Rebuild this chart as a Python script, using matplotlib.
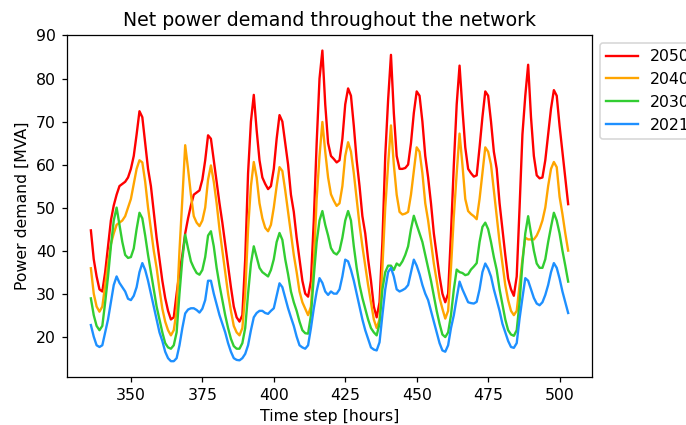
import numpy as np
import matplotlib
matplotlib.use("Agg")
import matplotlib.pyplot as plt

# hourly time steps for one week
hours = np.arange(336, 504)

# net demand per scenario year [MVA]
demand_2050 = [
    44.7, 38, 34, 31, 30.5, 35, 41, 47, 50.5, 53, 55, 55.5, 56, 57, 59, 62, 67, 72.4, 71, 65, 59, 55, 49, 43,
    38, 33, 29, 26, 24, 24.5, 30, 35, 39, 44, 47.5, 50.5, 53, 53.5, 54, 56.5, 61, 66.8, 66, 61, 56, 51, 46.5, 41.5,
    36.5, 31.5, 27, 24.5, 23.5, 25, 38, 58, 70, 76.2, 68, 61, 57, 55.5, 54.3, 55, 59, 66, 71.5, 70, 65, 60, 53, 49,
    43, 38, 33, 30, 29.3, 33, 47, 65, 80, 86.5, 74, 65, 62, 61.3, 60.5, 61, 66, 74, 77.7, 76, 69, 61, 55, 48,
    44, 38, 33, 27, 24.5, 28, 42, 62, 75, 85.5, 72, 62, 59, 59, 59.2, 60, 65, 72, 77, 76, 70, 62, 57, 51,
    44, 39, 34, 30, 28, 30, 44, 60, 74, 83, 73, 64, 59, 58, 57.2, 57.5, 64, 71, 77, 76, 70, 63, 59, 51,
    45, 39, 33.5, 31, 29.5, 34, 50, 67, 76, 83.2, 71, 62, 57.5, 56.8, 57, 61, 67, 73, 77.3, 76, 69, 63, 57, 50.8,
]
demand_2040 = [
    35.9, 30, 27, 25.8, 27, 32, 37, 41.5, 44, 46, 46.5, 47, 48, 50, 52, 55.5, 59, 61, 60.5, 56, 50, 45, 40, 36,
    31, 26.5, 23.5, 21.5, 20.3, 21.5, 26, 40, 52, 64.5, 59, 53, 48, 46.5, 45.7, 47, 50, 56.5, 59.8, 56, 51, 45, 40, 35,
    30, 26, 22.5, 21, 20.3, 22, 30, 45, 55, 60.6, 57, 51, 47.5, 45.3, 44.5, 46, 50, 55, 59.4, 58.5, 54, 49, 44, 39,
    35, 30.5, 28, 26.5, 25, 27, 37, 52, 62, 69.9, 63, 57, 53.1, 51.6, 50.4, 51, 55, 62, 65.2, 63, 58, 52, 46, 41,
    36.5, 32, 28, 24, 22, 24, 36, 50, 60, 69.1, 60, 53, 49, 48.4, 48.6, 49, 53, 58.6, 64, 63, 58, 51, 47, 42,
    37, 33, 29, 26.5, 24.2, 26, 36, 48, 58, 67.2, 60, 52, 49.2, 48.5, 48, 47.3, 52, 58, 64, 63, 60, 54, 48, 42,
    37, 32, 28.5, 26, 25, 26, 32, 38, 43, 42.6, 42.6, 42.6, 43.5, 45, 47, 50, 55, 59, 60.6, 59.4, 52.5, 48.5, 44, 40,
]
demand_2030 = [
    28.9, 25, 22.5, 21.5, 22.5, 28, 34, 41, 47, 50, 46, 42, 39, 38.3, 38.5, 40.5, 45, 48.8, 47.5, 43.5, 39, 35, 31, 27,
    24, 21, 18.5, 17.5, 17.2, 18, 21, 30, 38, 43.7, 40.5, 37.5, 36, 34.8, 34.4, 35.5, 38.5, 43.5, 44.5, 41, 36, 32, 28.5, 25,
    22, 19.5, 17.8, 17.2, 17.2, 18.5, 22, 30, 37, 41, 38.5, 36, 35, 34.5, 34, 35.5, 38, 42, 44.1, 42.5, 38, 34.5, 30.5, 28,
    26, 23.5, 21.5, 20.8, 20.7, 25, 34, 42, 47, 49.2, 46, 43.5, 40.6, 39.5, 39.1, 40, 43, 47, 49.2, 47, 41, 36, 32, 29,
    26.5, 24, 22, 21, 20.3, 23, 31, 35, 36.5, 36.5, 35.5, 37, 36.5, 37.5, 39, 41, 45, 48.1, 46, 44, 42, 39, 36, 33,
    29.5, 26, 23, 20.5, 19.9, 21, 25, 31, 35.6, 35, 34.8, 34.3, 34.5, 35.6, 36.3, 37.1, 42, 45.5, 46.5, 45, 42, 38.5, 35.5, 31,
    27.5, 24, 21.5, 20.5, 20.2, 21.5, 28, 37, 44, 48, 44, 40, 37, 36, 36, 38, 42, 45.5, 48.8, 47, 44, 40, 36.5, 32.8,
]
demand_2021 = [
    22.7, 20, 18, 17.6, 18, 21, 24, 28, 32, 34, 32.5, 31.5, 30.5, 28.8, 28.5, 29.5, 31.5, 35, 37.1, 35.5, 33, 30, 27, 24,
    21, 19, 16.5, 15, 14.3, 14.3, 15, 18, 22, 25.4, 26.3, 26.6, 26.6, 26.2, 25.6, 26.5, 28.5, 33, 33, 30, 27.5, 25, 23, 21,
    18.5, 16.5, 15, 14.6, 14.5, 15, 16, 18, 21.5, 24.5, 25.5, 26, 26, 25.5, 25.3, 26, 26.6, 29.5, 32.4, 31.5, 29, 26.6, 24.5, 22.5,
    20, 18, 17.5, 17.2, 18, 22, 26.6, 30.5, 33.6, 32.5, 30.5, 29.7, 30.5, 30, 30, 31, 34, 37.9, 37.5, 35.5, 33, 30, 27, 24,
    21.5, 19.5, 17.5, 17, 16.8, 18.7, 25, 31, 35, 36, 34, 31, 30.5, 30.8, 31.2, 32, 35, 37.9, 36.5, 34.5, 32, 30, 28.5, 26,
    23.5, 21, 18.5, 16.8, 16.5, 18, 22, 25, 29, 32.8, 31, 29.5, 28, 27.8, 27.7, 28.1, 31, 35, 37, 35.8, 34, 31, 28.5, 26,
    23, 21, 19, 17.6, 17.4, 18.5, 24.2, 29, 33.6, 33, 31, 29, 27.7, 27.3, 28, 29.7, 32, 35, 37.1, 36, 33.5, 30.5, 28, 25.5,
]

dpi = 113
fig = plt.figure(figsize=(686 / dpi, 425 / dpi), dpi=dpi)
ax = fig.add_axes([0.0977, 0.1136, 0.7653, 0.804])

ax.plot(hours, demand_2050, color="red", label="2050")
ax.plot(hours, demand_2040, color="orange", label="2040")
ax.plot(hours, demand_2030, color="limegreen", label="2030")
ax.plot(hours, demand_2021, color="dodgerblue", label="2021")

ax.set_title("Net power demand throughout the network")
ax.set_xlabel("Time step [hours]")
ax.set_ylabel("Power demand [MVA]")
ax.legend(loc="upper left", bbox_to_anchor=(1, 1))

fig.savefig("out.png", dpi=dpi)
